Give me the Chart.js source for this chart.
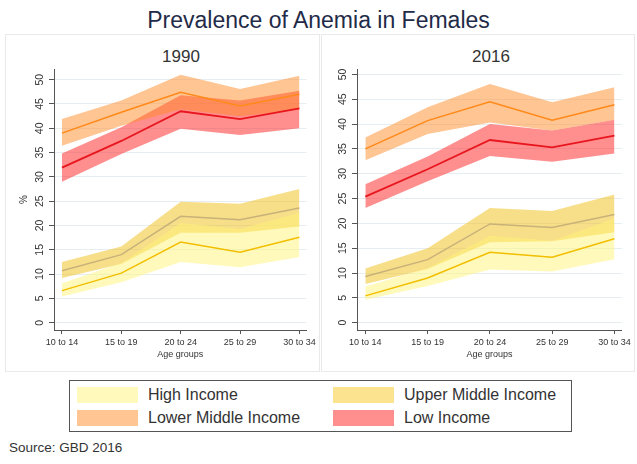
<!DOCTYPE html>
<html>
<head>
<meta charset="utf-8">
<script src="https://cdn.jsdelivr.net/npm/chart.js@4/dist/chart.umd.min.js"></script>
<style>
  body { margin: 0; background: #fff; font-family: "Liberation Sans", Arial, sans-serif; }
  #wrap { position: relative; width: 637px; height: 464px; overflow: hidden; }
  .abs { position: absolute; }
  .panel { border: 1px solid #e9e9e9; box-sizing: border-box; }
  .ptitle { font-size: 17px; color: #333; text-align: center; width: 120px; line-height: 20px; }
  #title { left: 0; width: 637px; top: 7px; text-align: center; font-size: 23px; color: #1f2b48; line-height: 26px; }
  #legend { left: 69px; top: 380px; width: 503px; height: 52px; border: 1px solid #555; box-sizing: border-box; }
  .item { position: absolute; font-size: 16px; color: #333; line-height: 16px; white-space: nowrap; }
  .sw { display: inline-block; width: 61px; height: 16px; vertical-align: top; margin-right: 10px; }
  #source { left: 9px; top: 440px; font-size: 13.5px; color: #333; }
</style>
</head>
<body>
<div id="wrap">
  <div id="title" class="abs">Prevalence of Anemia in Females</div>
  <div class="abs panel" style="left:5px;top:34px;width:315px;height:338px;"></div>
  <div class="abs panel" style="left:321px;top:34px;width:314px;height:338px;"></div>
  <div class="abs ptitle" style="left:121px;top:47px;">1990</div>
  <div class="abs ptitle" style="left:431px;top:47px;">2016</div>
  <canvas id="c1990" class="abs" width="314" height="337" style="left:5px;top:35px;"></canvas>
  <canvas id="c2016" class="abs" width="313" height="337" style="left:321px;top:35px;"></canvas>
  <div id="legend" class="abs"></div>
  <div id="source" class="abs">Source: GBD 2016</div>
</div>
<script>
const ageGroups = ['10 to 14', '15 to 19', '20 to 24', '25 to 29', '30 to 34'];
const yTicks = [0, 5, 10, 15, 20, 25, 30, 35, 40, 45, 50];
const seriesNames = ['High Income', 'Upper Middle Income', 'Lower Middle Income', 'Low Income'];

// 1990
const high1990 = [6.6, 10.2, 16.6, 14.5, 17.6];
const highLo1990 = [5.4, 8.3, 12.5, 11.4, 13.5];
const highHi1990 = [8.1, 12.3, 20.5, 19.3, 22.6];
const um1990 = [10.7, 14.0, 21.9, 21.2, 23.6];
const umLo1990 = [9.2, 12.1, 18.5, 18.5, 19.8];
const umHi1990 = [12.5, 15.7, 24.9, 24.5, 27.5];
const lm1990 = [39.0, 43.3, 47.4, 44.6, 47.0];
const lmLo1990 = [36.4, 40.5, 43.9, 42.5, 43.8];
const lmHi1990 = [41.9, 45.7, 51.0, 48.1, 50.8];
const low1990 = [31.9, 37.4, 43.5, 41.9, 44.1];
const lowLo1990 = [29.0, 34.7, 39.9, 38.6, 40.0];
const lowHi1990 = [34.8, 40.2, 46.8, 45.7, 47.7];

// 2016
const high2016 = [5.4, 9.0, 14.2, 13.2, 16.9];
const highLo2016 = [4.6, 7.4, 10.7, 10.3, 12.8];
const highHi2016 = [7.3, 11.0, 17.5, 16.5, 21.0];
const um2016 = [9.3, 12.7, 19.9, 19.2, 21.8];
const umLo2016 = [7.8, 10.8, 16.2, 16.4, 18.2];
const umHi2016 = [10.9, 15.0, 23.1, 22.5, 25.8];
const lm2016 = [35.0, 40.7, 44.5, 40.8, 43.9];
const lmLo2016 = [32.7, 38.0, 40.3, 38.7, 40.9];
const lmHi2016 = [37.3, 43.4, 48.1, 44.4, 47.4];
const low2016 = [25.4, 30.9, 36.8, 35.3, 37.7];
const lowLo2016 = [23.1, 28.5, 33.6, 32.4, 34.1];
const lowHi2016 = [27.9, 33.5, 40.0, 38.7, 40.9];

const bandColors = ['rgba(255,245,120,0.5)', 'rgba(240,195,40,0.55)', 'rgba(255,140,40,0.5)', 'rgba(255,30,30,0.5)'];
const lineColors = ['#f2be00', '#c8b27a', '#ff8a1a', '#e8161e'];
const legendColors = ['#fffabb', '#fbe38f', '#ffc593', '#ff8e8e'];
const FONT = '"Liberation Sans", Arial, sans-serif';

function pts(arr) {
	return arr.map((v, i) => ({ x: i, y: v }));
}

function makeDatasets(groups) {
	const ds = [];
	groups.forEach((g, k) => {
		const [mid, lo, hi] = g;
		ds.push({ data: pts(lo), borderWidth: 0, pointRadius: 0, fill: false, order: 2 });
		ds.push({ data: pts(hi), borderWidth: 0, pointRadius: 0, fill: '-1', backgroundColor: bandColors[k], order: 2 });
	});
	groups.forEach((g, k) => {
		ds.push({ data: pts(g[0]), borderColor: lineColors[k], borderWidth: k === 3 ? 1.8 : 1.5, pointRadius: 0, fill: false, tension: 0, order: 0 });
	});
	return ds;
}

const rotatedTicks = {
	id: 'rotatedTicks',
	afterDraw(chart) {
		const y = chart.scales.y;
		const ctx = chart.ctx;
		ctx.save();
		ctx.font = '10.5px ' + FONT;
		ctx.fillStyle = '#333';
		ctx.textAlign = 'center';
		ctx.textBaseline = 'middle';
		yTicks.forEach(v => {
			ctx.save();
			ctx.translate(y.right - 14, y.getPixelForValue(v));
			ctx.rotate(-Math.PI / 2);
			ctx.fillText(String(v), 0, 0);
			ctx.restore();
		});
		ctx.restore();
	}
};

function makeChart(id, groups, yMin, yMax, yWidth, padRight, showPct) {
	return new Chart(document.getElementById(id), {
		type: 'line',
		data: { datasets: makeDatasets(groups) },
		options: {
			responsive: false,
			animation: false,
			devicePixelRatio: 1,
			layout: { padding: { top: 34, right: padRight, bottom: 12, left: 0 } },
			plugins: { legend: { display: false }, tooltip: { enabled: false } },
			scales: {
				x: {
					type: 'linear',
					min: -0.134,
					max: 4.12,
					afterBuildTicks: s => { s.ticks = ageGroups.map((_, i) => ({ value: i })); },
					afterFit: s => { s.height = 30; },
					ticks: {
						autoSkip: false, maxRotation: 0, minRotation: 0, padding: 3,
						color: '#333', font: { family: FONT, size: 9 },
						callback: v => ageGroups[v] ?? ''
					},
					grid: { drawOnChartArea: false, drawTicks: true, tickLength: 4, tickColor: '#555' },
					border: { display: true, color: '#555', width: 1 },
					title: { display: true, text: 'Age groups', color: '#333', font: { family: FONT, size: 9 }, padding: { top: 0, bottom: 0 } }
				},
				y: {
					min: yMin,
					max: yMax,
					afterBuildTicks: s => { s.ticks = yTicks.map(v => ({ value: v })); },
					afterFit: s => { s.width = yWidth; },
					ticks: { display: false },
					grid: { color: '#e7eef2', lineWidth: 1, drawTicks: true, tickLength: 5, tickColor: '#555' },
					border: { display: true, color: '#555', width: 1 },
					title: { display: showPct, text: '%', color: '#333', font: { family: FONT, size: 10 }, padding: { top: 13, bottom: 0 } }
				}
			}
		},
		plugins: [rotatedTicks]
	});
}

makeChart('c1990', [[high1990, highLo1990, highHi1990], [um1990, umLo1990, umHi1990], [lm1990, lmLo1990, lmHi1990], [low1990, lowLo1990, lowHi1990]], -1.5, 52.2, 49, 11, true);
makeChart('c2016', [[high2016, highLo2016, highHi2016], [um2016, umLo2016, umHi2016], [lm2016, lmLo2016, lmHi2016], [low2016, lowLo2016, lowHi2016]], -1.47, 51.1, 36, 10, false);

// legend, 2 columns x 2 rows
const legend = document.getElementById('legend');
const legendOrder = [0, 1, 2, 3];
legendOrder.forEach((k, n) => {
	const el = document.createElement('div');
	el.className = 'item';
	el.style.left = (n % 2 === 0 ? 7 : 263) + 'px';
	el.style.top = (n < 2 ? 6 : 29) + 'px';
	el.innerHTML = '<span class="sw" style="background:' + legendColors[k] + '"></span>' + seriesNames[k];
	legend.appendChild(el);
});
</script>
</body>
</html>
